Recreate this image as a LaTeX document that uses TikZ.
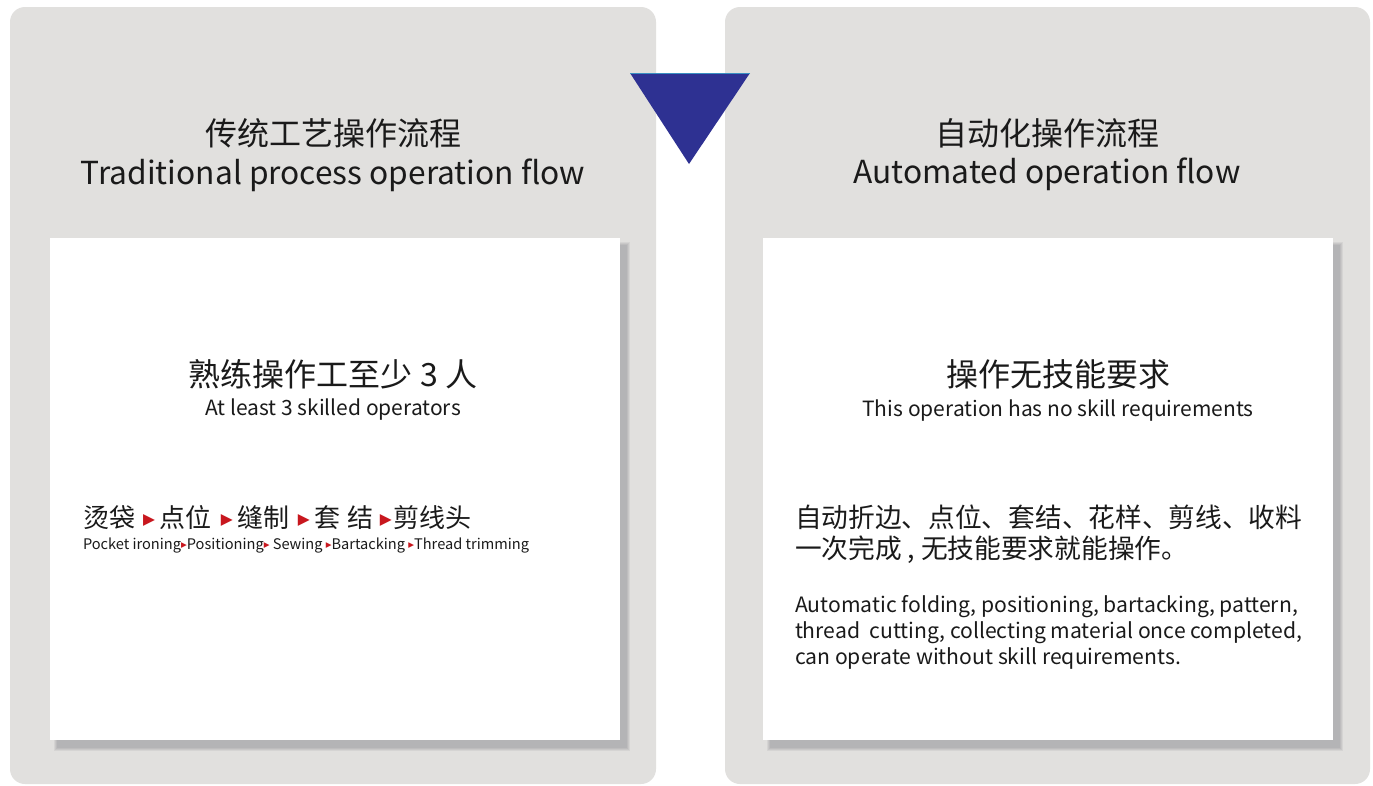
\documentclass[tikz,border=0pt]{standalone}
\usepackage{fontspec}
\setmainfont{Noto Sans CJK SC}
\newfontfamily\dv{DejaVu Sans}
\definecolor{panelgray}{HTML}{E1E0DE}
\definecolor{shadowgray}{HTML}{B4B4B6}
\definecolor{navy}{HTML}{2E3192}
\definecolor{trired}{HTML}{C8171E}
\definecolor{txt}{HTML}{1A1A1A}
\newcommand{\rtri}[2]{{\dv\fontsize{#1}{#1}\selectfont\raisebox{#2}{\textcolor{trired}{▶}}}}
\begin{document}
\begin{tikzpicture}[x=1pt,y=-1pt,
  panel/.style={fill=panelgray,draw=none,rounded corners=15pt},
  card/.style={fill=white,draw=none},
  fs/.style={font=\fontsize{#1}{#1}\selectfont},
  tx/.style={text=txt,inner sep=0pt,outer sep=0pt}]
\useasboundingbox (0,0) rectangle (1373,785);
\fill[white] (0,0) rectangle (1373,785);
% panels
\path[panel] (10,7) rectangle (656,784);
\path[panel] (725,7) rectangle (1370,784);
% triangle
\fill[navy] (630,73) coordinate (ta) -- (750,73) coordinate (tb) -- (689,164) coordinate (tc) -- cycle;
\draw[cyan!60!navy,line width=0.6pt] (ta) -- (tb);
% card shadows
\foreach \ox in {50,763}{
  \foreach \d/\op in {3/0.25,2/0.35,1/0.5,0/1}{
    \fill[shadowgray,opacity=\op] (\ox+7-\d,245-\d) rectangle (\ox+577+\d,748+\d);
  }
}
% cards
\path[card] (50,238) rectangle (620,740);
\path[card] (763,238) rectangle (1333,740);
% headings
\node[tx,fs=32,anchor=base] (lh1) at (333,145) {传统工艺操作流程};
\node[tx,fs=31.7,anchor=base] (lh2) at (333,184) {Traditional process operation flow};
\node[tx,fs=32,anchor=base] (rh1) at (1047,145) {自动化操作流程};
\node[tx,fs=31.7,anchor=base] (rh2) at (1047,183) {Automated operation flow};
% left card
\node[tx,fs=32,anchor=base] (lc1) at (333,386) {熟练操作工至少 3 人};
\node[tx,fs=21,anchor=base] (lc2) at (333,415) {At least 3 skilled operators};
\node[tx,fs=26,anchor=base west] (lp1) at (83,527) {烫袋\hspace{8pt}\rtri{15.5}{2.5pt}\hspace{5pt}点位\hspace{9pt}\rtri{15.5}{2.5pt}\hspace{5pt}缝制\hspace{8pt}\rtri{15.5}{2.5pt}\hspace{5pt}套\hspace{7pt}结\hspace{6pt}\rtri{15.5}{2.5pt}\hspace{2pt}剪线头};
\node[tx,fs=14.6,anchor=base west] (lp2) at (83,549) {Pocket ironing\rtri{7.5}{1.5pt}Positioning\rtri{7.5}{1.5pt} Sewing \rtri{7.5}{1.5pt}Bartacking \rtri{7.5}{1.5pt}Thread trimming};
% right card
\node[tx,fs=32,anchor=base] (rc1) at (1058,386) {操作无技能要求};
\node[tx,fs=21,anchor=base] (rc2) at (1058,416) {This operation has no skill requirements};
\node[tx,fs=26.7,anchor=base west] (rp1) at (795,527) {自动折边、点位、套结、花样、剪线、收料};
\node[tx,fs=26.7,anchor=base west] (rp1b) at (795,558) {一次完成 , 无技能要求就能操作。};
\node[tx,anchor=north west,align=left,font=\fontsize{21.15}{26}\selectfont] (rp2) at (795,595) {Automatic folding, positioning, bartacking, pattern,\\thread\ \ cutting, collecting material once completed,\\can operate without skill requirements.};
\end{tikzpicture}
\end{document}
